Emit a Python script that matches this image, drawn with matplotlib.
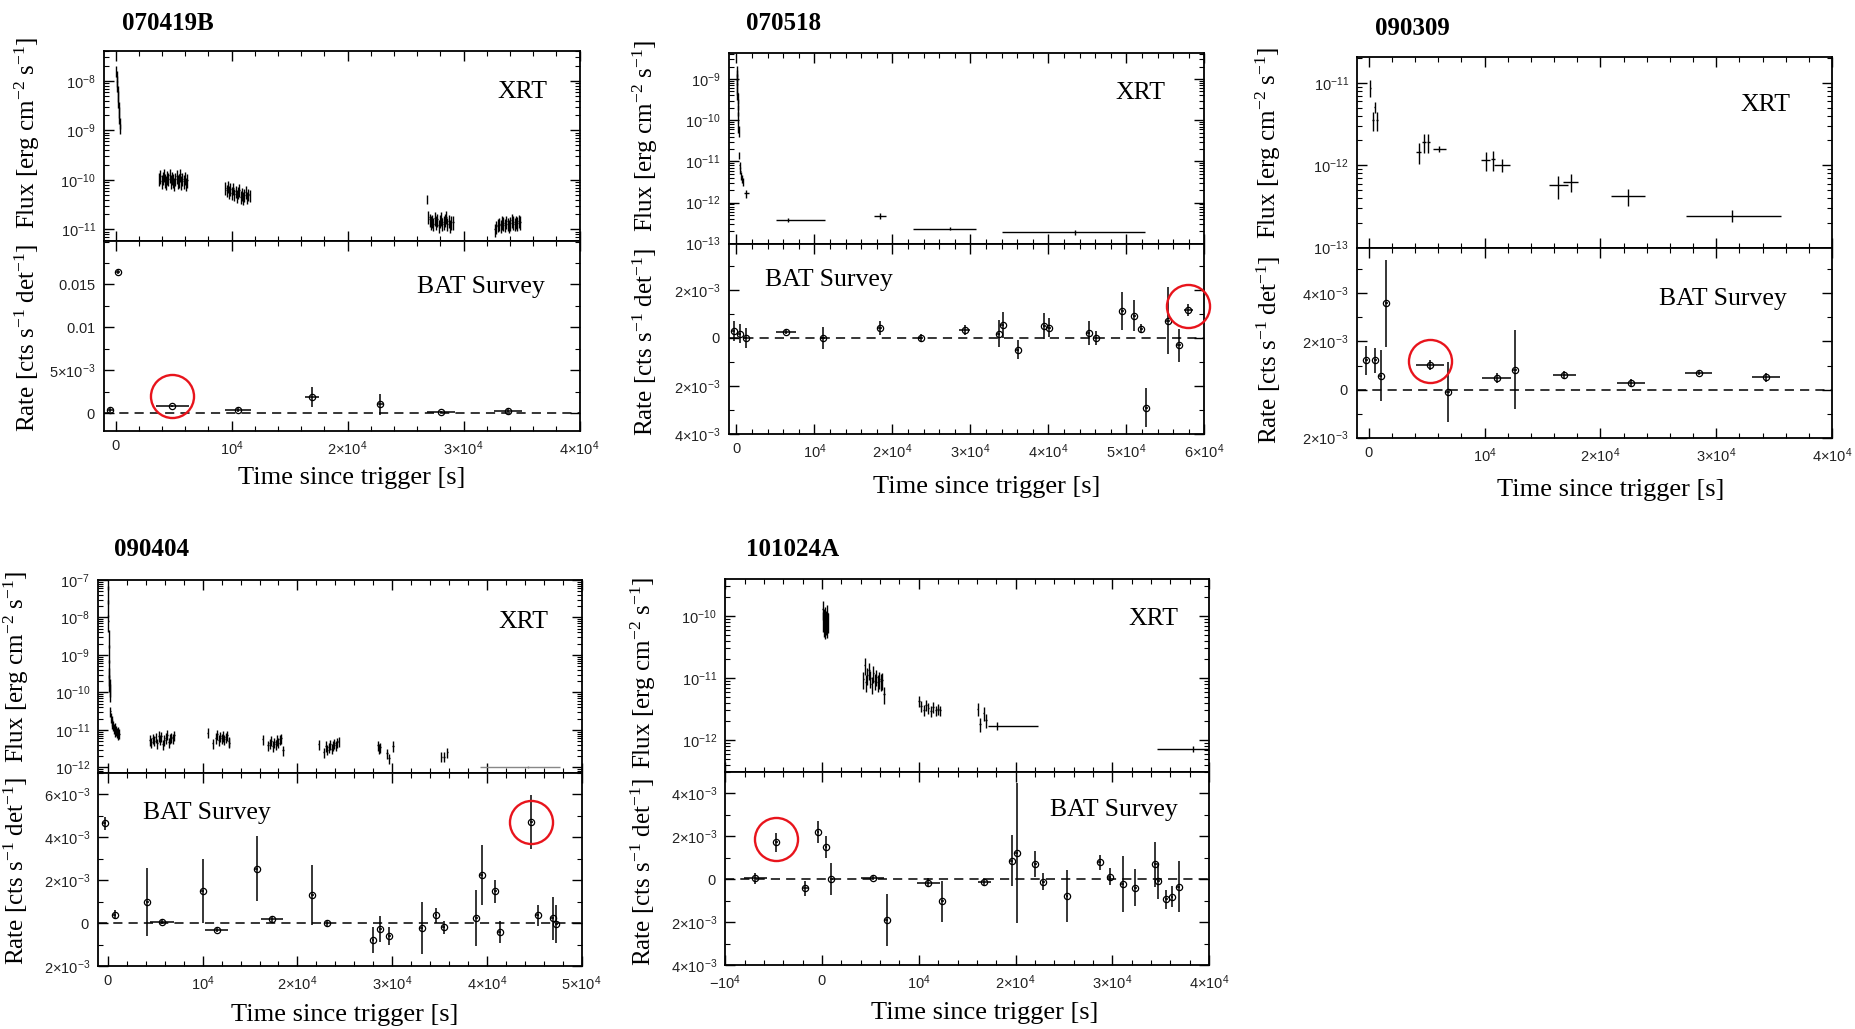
import matplotlib
matplotlib.use("Agg")
import matplotlib.pyplot as plt
import matplotlib.transforms as mtransforms
from matplotlib.ticker import FixedLocator, MultipleLocator, LogLocator, NullFormatter, FixedFormatter

plt.rcParams['font.family'] = ['Liberation Sans', 'DejaVu Sans']
plt.rcParams['mathtext.fontset'] = 'dejavusans'

# ------------------------------------------------------------------ data
titles = ["070419B", "070518", "090309", "090404", "101024A"]

# ---- 070419B  XRT clusters (time [s], flux [erg cm-2 s-1])
p1_c1_t = [40, 70, 100, 130, 160, 190, 220, 250, 280, 310, 340, 370]
p1_c1_f = [1.6e-8, 1.26e-8, 1.0e-8, 7.9e-9, 6.3e-9, 5.0e-9, 3.8e-9, 3.0e-9, 2.4e-9, 1.8e-9, 1.4e-9, 1.1e-9]
p1_c2_t = [3750, 3850, 3950, 4050, 4150, 4250, 4350, 4450, 4550, 4650, 4750, 4850, 4950,
           5050, 5150, 5250, 5350, 5450, 5550, 5650, 5750, 5850, 5950, 6050, 6150]
p1_c2_f = [1.05e-10, 1.20e-10, 0.95e-10, 1.10e-10, 1.30e-10, 1.00e-10, 0.90e-10, 1.15e-10, 1.05e-10,
           1.25e-10, 0.95e-10, 1.10e-10, 1.00e-10, 0.85e-10, 1.05e-10, 1.20e-10, 0.95e-10, 1.00e-10,
           1.30e-10, 0.90e-10, 1.05e-10, 0.95e-10, 1.10e-10, 0.85e-10, 1.00e-10]
p1_c3_t = [9450, 9560, 9670, 9780, 9890, 10000, 10110, 10220, 10330, 10440, 10550, 10660,
           10770, 10880, 10990, 11100, 11210, 11320, 11430, 11540]
p1_c3_f = [7.0e-11, 6.2e-11, 7.4e-11, 5.8e-11, 6.6e-11, 5.5e-11, 6.9e-11, 5.2e-11, 6.0e-11, 4.8e-11,
           5.6e-11, 6.3e-11, 4.6e-11, 5.3e-11, 4.4e-11, 5.0e-11, 5.8e-11, 4.5e-11, 5.1e-11, 4.9e-11]
p1_c4_t = [26830]
p1_c4_f = [4.1e-11]
p1_c5_t = [26950, 27060, 27170, 27280, 27390, 27500, 27610, 27720, 27830, 27940, 28050, 28160,
           28270, 28380, 28490, 28600, 28710, 28820, 28930, 29100]
p1_c5_f = [1.8e-11, 1.6e-11, 1.4e-11, 1.5e-11, 1.3e-11, 1.7e-11, 1.4e-11, 1.6e-11, 1.2e-11, 1.5e-11,
           1.7e-11, 1.3e-11, 1.4e-11, 1.6e-11, 1.8e-11, 1.3e-11, 1.5e-11, 1.2e-11, 1.4e-11, 1.4e-11]
p1_c6_t = [32700, 32820, 32940, 33060, 33180, 33300, 33420, 33540, 33660, 33780, 33900, 34020,
           34140, 34260, 34380, 34500, 34620, 34740, 34860]
p1_c6_f = [1.0e-11, 1.15e-11, 1.25e-11, 1.3e-11, 1.2e-11, 1.4e-11, 1.35e-11, 1.25e-11, 1.45e-11,
           1.3e-11, 1.2e-11, 1.35e-11, 1.55e-11, 1.4e-11, 1.3e-11, 1.45e-11, 1.35e-11, 1.5e-11, 1.4e-11]
# ---- 070419B  BAT survey
p1_bat_t = [-460, 200, 4880, 10530, 16930, 22800, 28020, 33800]
p1_bat_terr = [250, 150, 1400, 1100, 600, 250, 1200, 1200]
p1_bat_r = [0.0004, 0.0165, 0.00085, 0.0004, 0.0019, 0.00105, 0.0001, 0.0003]
p1_bat_rerr = [0.0002, 0.0003, 0.00012, 0.0002, 0.0012, 0.0012, 0.00012, 0.0002]

# ---- 070518  XRT
p2_c1_t = [20, 40, 60, 80, 100, 120, 140, 160, 180, 200, 240, 270]
p2_c1_f = [1.6e-9, 1.3e-9, 1.0e-9, 8e-10, 6e-10, 4.5e-10, 3.5e-10, 2.5e-10, 1.8e-10, 1.2e-10, 7e-11, 5.5e-11]
p2_c2_t = [330, 420, 510, 600, 690, 780]
p2_c2_f = [1.4e-11, 8e-12, 6e-12, 4.5e-12, 3.8e-12, 3.2e-12]
p2_late_t = [1280, 6600, 18380, 27410, 43400]
p2_late_tlo = [300, 1500, 800, 4820, 9390]
p2_late_thi = [300, 4700, 800, 3300, 9040]
p2_late_f = [1.66e-12, 3.8e-13, 4.8e-13, 2.3e-13, 1.9e-13]
p2_late_ferr = [0.35e-12, 0.4e-13, 0.9e-13, 0.2e-13, 0.25e-13]
# ---- 070518  BAT
p2_bat_t = [-355, 406, 1170, 6350, 11070, 18380, 23600, 29290, 33650, 34160, 36040,
            39440, 40100, 45180, 46040, 49490, 51020, 51930, 52540, 55330, 56750, 57920]
p2_bat_terr = [200, 200, 200, 1270, 300, 300, 300, 700, 200, 200, 200,
               200, 200, 200, 200, 200, 200, 200, 200, 200, 200, 600]
p2_bat_r = [0.28e-3, 0.18e-3, 0.0, 0.25e-3, 0.0, 0.42e-3, 0.0, 0.32e-3, 0.18e-3, 0.53e-3, -0.49e-3,
            0.49e-3, 0.43e-3, 0.21e-3, 0.0, 1.11e-3, 0.92e-3, 0.39e-3, -2.9e-3, 0.71e-3, -0.31e-3, 1.15e-3]
p2_bat_rerr = [0.42e-3, 0.4e-3, 0.4e-3, 0.1e-3, 0.45e-3, 0.3e-3, 0.15e-3, 0.2e-3, 0.55e-3, 0.55e-3, 0.4e-3,
               0.55e-3, 0.4e-3, 0.5e-3, 0.3e-3, 0.8e-3, 0.65e-3, 0.2e-3, 0.8e-3, 1.4e-3, 0.7e-3, 0.25e-3]

# ---- 090309  XRT
p3_xrt_t = [150, 520, 350, 750, 4320, 4780, 5150, 6100, 10100, 10730, 11500, 16380, 17440, 22380, 31390]
p3_xrt_tlo = [60, 60, 80, 80, 200, 150, 150, 570, 400, 200, 700, 800, 650, 1430, 4000]
p3_xrt_thi = [60, 60, 80, 80, 200, 150, 150, 570, 400, 200, 700, 800, 650, 1430, 4200]
p3_xrt_f = [8.7e-12, 5.1e-12, 3.5e-12, 3.5e-12, 1.45e-12, 1.9e-12, 1.9e-12, 1.58e-12,
            1.16e-12, 1.18e-12, 1.02e-12, 5.7e-13, 6.3e-13, 4.2e-13, 2.45e-13]
p3_xrt_ferr = [2.0e-12, 0.8e-12, 0.9e-12, 0.9e-12, 0.4e-12, 0.5e-12, 0.5e-12, 0.15e-12,
               0.3e-12, 0.32e-12, 0.18e-12, 1.8e-13, 1.5e-13, 1.0e-13, 0.4e-13]
# ---- 090309  BAT
p3_bat_t = [-200, 580, 1020, 1530, 5290, 6850, 11060, 12620, 16900, 22670, 28470, 34270]
p3_bat_terr = [150, 150, 150, 150, 1220, 150, 1250, 150, 1000, 1200, 1200, 1200]
p3_bat_r = [1.21e-3, 1.21e-3, 0.58e-3, 3.59e-3, 1.03e-3, -0.11e-3, 0.48e-3, 0.83e-3, 0.62e-3, 0.28e-3, 0.69e-3, 0.51e-3]
p3_bat_rerr = [0.62e-3, 0.5e-3, 1.05e-3, 1.8e-3, 0.2e-3, 1.25e-3, 0.2e-3, 1.65e-3, 0.15e-3, 0.15e-3, 0.1e-3, 0.2e-3]

# ---- 090404  XRT
p4_c1_t = [20, 40, 60, 80, 100, 120, 140, 160, 180, 200]
p4_c1_f = [4.5e-8, 2e-8, 8e-9, 3e-9, 1.2e-9, 5e-10, 3e-10, 2e-10, 1.5e-10, 1.1e-10]
p4_c2_t = [240, 320, 400, 480, 560, 640, 720, 800, 880, 960, 1040, 1120, 1200]
p4_c2_f = [3.2e-11, 2.2e-11, 1.8e-11, 1.5e-11, 1.3e-11, 1.1e-11, 1.2e-11, 0.95e-11, 1.0e-11,
           0.85e-11, 0.9e-11, 0.75e-11, 0.8e-11]
p4_c3_t = [4450, 4600, 4750, 4900, 5050, 5200, 5350, 5500, 5650, 5800, 5950, 6100, 6250, 6400,
           6550, 6700, 6850, 7000]
p4_c3_f = [5.5e-12, 4.8e-12, 6.0e-12, 5.2e-12, 6.5e-12, 4.5e-12, 7.0e-12, 5.8e-12, 6.8e-12, 4.2e-12,
           5.5e-12, 6.2e-12, 7.5e-12, 4.8e-12, 5.9e-12, 6.5e-12, 6.0e-12, 7.2e-12]
p4_c4_t = [10530, 11050, 11400, 11550, 11700, 11850, 12000, 12150, 12300, 12450, 12600, 12750, 12820]
p4_c4_f = [8.5e-12, 4.4e-12, 6.2e-12, 7.8e-12, 5.5e-12, 6.8e-12, 6.0e-12, 7.0e-12, 5.8e-12, 6.5e-12,
           7.2e-12, 5.0e-12, 4.6e-12]
p4_c5_t = [16330, 16900, 17100, 17250, 17400, 17550, 17700, 17850, 18000, 18150, 18300, 18480]
p4_c5_f = [5.6e-12, 4.0e-12, 4.5e-12, 5.2e-12, 3.8e-12, 4.8e-12, 4.2e-12, 5.5e-12, 4.6e-12, 5.8e-12,
           6.0e-12, 2.95e-12]
p4_c6_t = [22250, 22780, 23000, 23150, 23300, 23450, 23600, 23750, 23900, 24050, 24200, 24350]
p4_c6_f = [4.2e-12, 2.6e-12, 3.8e-12, 3.0e-12, 3.5e-12, 4.2e-12, 3.2e-12, 3.9e-12, 4.5e-12, 4.0e-12,
           4.8e-12, 5.0e-12]
p4_c7_t = [28530, 28600, 28750, 29480, 29700, 30080, 35200, 35450, 35830]
p4_c7_f = [4.0e-12, 3.2e-12, 3.5e-12, 2.4e-12, 1.75e-12, 3.8e-12, 1.95e-12, 1.95e-12, 2.6e-12]
p4_late_t = [44330]
p4_late_tlo = [5060]
p4_late_thi = [3360]
p4_late_f = [1.05e-12]
p4_late_ferr = [0.06e-12]
# ---- 090404  BAT
p4_bat_t = [-320, 730, 4170, 5710, 10000, 11500, 15710, 17330, 21580, 23080, 27980, 28740, 29680,
            33120, 34620, 35430, 38870, 39470, 40890, 41340, 44700, 45340, 46920, 47330]
p4_bat_terr = [150, 150, 150, 1215, 150, 1200, 150, 1200, 150, 150, 150, 150, 150,
               150, 150, 150, 150, 150, 150, 150, 150, 150, 150, 150]
p4_bat_r = [4.65e-3, 0.39e-3, 0.98e-3, 0.05e-3, 1.5e-3, -0.31e-3, 2.53e-3, 0.19e-3, 1.29e-3, 0.0,
            -0.79e-3, -0.28e-3, -0.6e-3, -0.22e-3, 0.37e-3, -0.2e-3, 0.22e-3, 2.25e-3, 1.47e-3,
            -0.42e-3, 4.71e-3, 0.36e-3, 0.22e-3, -0.05e-3]
p4_bat_rerr = [0.3e-3, 0.2e-3, 1.6e-3, 0.1e-3, 1.5e-3, 0.1e-3, 1.5e-3, 0.15e-3, 1.4e-3, 0.15e-3,
               0.6e-3, 0.6e-3, 0.4e-3, 1.2e-3, 0.35e-3, 0.3e-3, 1.3e-3, 1.4e-3, 0.55e-3,
               0.5e-3, 1.25e-3, 0.5e-3, 1.0e-3, 0.9e-3]

# ---- 101024A  XRT
p5_c1_t = [60, 110, 160, 210, 260, 310, 360, 410, 460, 510, 560, 610]
p5_c1_f = [1.3e-10, 8.5e-11, 7.0e-11, 9.5e-11, 6.5e-11, 8.0e-11, 1.05e-10, 7.5e-11, 9.0e-11,
           6.8e-11, 1.1e-10, 8.2e-11]
p5_c2_t = [4250, 4400, 4550, 4700, 4850, 5000, 5150, 5300, 5450, 5600, 5750, 5900, 6050, 6200, 6400]
p5_c2_f = [9.5e-12, 1.6e-11, 8.5e-12, 1.1e-11, 1.35e-11, 1.0e-11, 8.0e-12, 1.2e-11, 9.0e-12,
           1.05e-11, 8.5e-12, 9.5e-12, 8.8e-12, 9.2e-12, 5.5e-12]
p5_c3_t = [10000, 10250, 10500, 10750, 11000, 11250, 11500, 11750, 12000, 12200]
p5_c3_f = [4.2e-12, 3.6e-12, 3.1e-12, 3.7e-12, 3.3e-12, 2.9e-12, 3.4e-12, 3.0e-12, 3.2e-12, 3.0e-12]
p5_c4_t = [16070, 16350, 16690, 16960]
p5_c4_f = [3.2e-12, 1.8e-12, 2.7e-12, 2.1e-12]
p5_late_t = [18070, 38290]
p5_late_tlo = [970, 3680]
p5_late_thi = [4200, 2500]
p5_late_f = [1.7e-12, 7.2e-13]
p5_late_ferr = [0.25e-12, 0.7e-13]
# ---- 101024A  BAT
p5_bat_t = [-6900, -4730, -1710, -410, 410, 980, 5220, 6690, 10980, 12410, 16780, 19590, 20120,
            22040, 22860, 25310, 28690, 29710, 31060, 32370, 34410, 34740, 35550, 36160, 36860]
p5_bat_terr = [1200, 150, 300, 150, 150, 150, 1200, 150, 1200, 150, 700, 150, 150,
               150, 150, 150, 150, 150, 150, 150, 150, 150, 150, 150, 150]
p5_bat_r = [0.05e-3, 1.72e-3, -0.42e-3, 2.19e-3, 1.49e-3, 0.0, 0.05e-3, -1.88e-3, -0.16e-3, -1.02e-3,
            -0.11e-3, 0.87e-3, 1.21e-3, 0.71e-3, -0.11e-3, -0.79e-3, 0.78e-3, 0.12e-3, -0.23e-3,
            -0.39e-3, 0.7e-3, -0.08e-3, -0.93e-3, -0.81e-3, -0.34e-3]
p5_bat_rerr = [0.25e-3, 0.45e-3, 0.35e-3, 0.5e-3, 0.5e-3, 0.75e-3, 0.1e-3, 1.2e-3, 0.2e-3, 0.95e-3,
               0.15e-3, 1.2e-3, 3.25e-3, 0.6e-3, 0.4e-3, 1.2e-3, 0.35e-3, 0.4e-3, 1.3e-3,
               0.85e-3, 1.05e-3, 0.85e-3, 0.45e-3, 0.5e-3, 1.2e-3]

highlight_index = [2, 21, 4, 20, 1]

# axis settings
x_limits = [(-1000, 40000), (-1000, 60000), (-1000, 40000), (-1000, 50000), (-10000, 40000)]
x_ticks = [[0, 1e4, 2e4, 3e4, 4e4],
           [0, 1e4, 2e4, 3e4, 4e4, 5e4, 6e4],
           [0, 1e4, 2e4, 3e4, 4e4],
           [0, 1e4, 2e4, 3e4, 4e4, 5e4],
           [-1e4, 0, 1e4, 2e4, 3e4, 4e4]]
x_ticklabels = [[r'$\mathdefault{0}$', r'$\mathdefault{10^{4}}$', r'$\mathdefault{2{\times}10^{4}}$',
                 r'$\mathdefault{3{\times}10^{4}}$', r'$\mathdefault{4{\times}10^{4}}$'],
                [r'$\mathdefault{0}$', r'$\mathdefault{10^{4}}$', r'$\mathdefault{2{\times}10^{4}}$',
                 r'$\mathdefault{3{\times}10^{4}}$', r'$\mathdefault{4{\times}10^{4}}$',
                 r'$\mathdefault{5{\times}10^{4}}$', r'$\mathdefault{6{\times}10^{4}}$'],
                [r'$\mathdefault{0}$', r'$\mathdefault{10^{4}}$', r'$\mathdefault{2{\times}10^{4}}$',
                 r'$\mathdefault{3{\times}10^{4}}$', r'$\mathdefault{4{\times}10^{4}}$'],
                [r'$\mathdefault{0}$', r'$\mathdefault{10^{4}}$', r'$\mathdefault{2{\times}10^{4}}$',
                 r'$\mathdefault{3{\times}10^{4}}$', r'$\mathdefault{4{\times}10^{4}}$',
                 r'$\mathdefault{5{\times}10^{4}}$'],
                [r'$\mathdefault{-10^{4}}$', r'$\mathdefault{0}$', r'$\mathdefault{10^{4}}$',
                 r'$\mathdefault{2{\times}10^{4}}$', r'$\mathdefault{3{\times}10^{4}}$',
                 r'$\mathdefault{4{\times}10^{4}}$']]
xrt_limits = [(10**-11.23, 10**-7.39), (1e-13, 10**-8.36), (1e-13, 10**-10.69),
              (10**-12.14, 1e-7), (10**-12.51, 10**-9.4)]
bat_limits = [(-0.00206, 0.0201), (-4e-3, 3.92e-3), (-2e-3, 5.9e-3), (-2e-3, 7e-3), (-4e-3, 5e-3)]
bat_ticks = [[0, 5e-3, 0.01, 0.015], [-4e-3, -2e-3, 0, 2e-3], [-2e-3, 0, 2e-3, 4e-3],
             [-2e-3, 0, 2e-3, 4e-3, 6e-3], [-4e-3, -2e-3, 0, 2e-3, 4e-3]]
E3 = r'$\mathdefault{%d{\times}10^{-3}}$'
bat_ticklabels = [[r'$\mathdefault{0}$', E3 % 5, r'$\mathdefault{0.01}$', r'$\mathdefault{0.015}$'],
                  [E3 % 4, E3 % 2, r'$\mathdefault{0}$', E3 % 2],
                  [E3 % 2, r'$\mathdefault{0}$', E3 % 2, E3 % 4],
                  [E3 % 2, r'$\mathdefault{0}$', E3 % 2, E3 % 4, E3 % 6],
                  [E3 % 4, E3 % 2, r'$\mathdefault{0}$', E3 % 2, E3 % 4]]
bat_minor = [2.5e-3, 1e-3, 1e-3, 1e-3, 1e-3]

# ------------------------------------------------------------------ layout (pixels)
W, H = 1856, 1029
fig = plt.figure(figsize=(W / 100, H / 100), dpi=100)

# left, right, top, divider, bottom
boxes = [(104.1, 579.7, 50.7, 240.7, 431.0),
         (728.7, 1204.4, 52.7, 243.7, 434.0),
         (1357.1, 1832.1, 57.3, 247.7, 437.7),
         (98.4, 581.7, 580.0, 772.7, 966.0),
         (725.2, 1209.2, 578.7, 771.7, 965.3)]
title_pos = [(121.7, 23), (745.7, 23.3), (1374.8, 28.3), (113.7, 549), (745.7, 550)]
ylab_pos = [(27, 133, 338), (645, 135.5, 342), (1268.5, 143, 350), (16, 667, 871), (643, 673, 872)]
xlab_pos = [(352, 478), (986.7, 487), (1611, 490), (344.5, 1015), (984.5, 1013)]
xrt_txt = [(0.932, 0.785, 'right'), (0.918, 0.787, 'right'), (0.912, 0.75, 'right'),
           (0.932, 0.784, 'right'), (0.936, 0.79, 'right')]
bat_txt = [(0.927, 0.758, 'right'), (0.077, 0.81, 'left'), (0.905, 0.728, 'right'),
           (0.093, 0.79, 'left'), (0.936, 0.80, 'right')]
circle_dy = [7, 3, 3, 0, 2]

SERIF = ['Liberation Serif', 'DejaVu Serif']
LBL = 18
INFO = 18.5


def fx(x):
    return x / W


def fy(y):
    return 1 - y / H


def style(ax):
    ax.tick_params(which='both', direction='in', top=True, right=True, color='k',
                   labelcolor='#222222', labelsize=10.5)
    ax.tick_params(which='major', length=7, width=1.0)
    ax.tick_params(which='minor', length=3.5, width=0.8)
    ax.tick_params(axis='y', pad=6)
    ax.tick_params(axis='x', pad=6)
    for s in ax.spines.values():
        s.set_linewidth(1.3)


def xrt_plot(ax, t, f, rel, terr, color='k'):
    ax.errorbar(t, f, yerr=[v * rel for v in f], xerr=terr, fmt='none',
                ecolor=color, elinewidth=1.0, capsize=0)


def xrt_plot_abs(ax, t, f, tlo, thi, ferr, color='k'):
    ax.errorbar(t, f, yerr=ferr, xerr=[tlo, thi], fmt='none',
                ecolor=color, elinewidth=1.0, capsize=0)


xrt_data = [
    lambda ax: (xrt_plot(ax, p1_c1_t, p1_c1_f, 0.25, 15), xrt_plot(ax, p1_c2_t, p1_c2_f, 0.3, 50),
                xrt_plot(ax, p1_c3_t, p1_c3_f, 0.28, 50), xrt_plot(ax, p1_c4_t, p1_c4_f, 0.22, 20),
                xrt_plot(ax, p1_c5_t, p1_c5_f, 0.3, 50), xrt_plot(ax, p1_c6_t, p1_c6_f, 0.3, 55)),
    lambda ax: (xrt_plot(ax, p2_c1_t, p2_c1_f, 0.3, 10), xrt_plot(ax, p2_c2_t, p2_c2_f, 0.2, 40),
                xrt_plot_abs(ax, p2_late_t, p2_late_f, p2_late_tlo, p2_late_thi, p2_late_ferr)),
    lambda ax: xrt_plot_abs(ax, p3_xrt_t, p3_xrt_f, p3_xrt_tlo, p3_xrt_thi, p3_xrt_ferr),
    lambda ax: (xrt_plot(ax, p4_c1_t, p4_c1_f, 0.5, 10), xrt_plot(ax, p4_c2_t, p4_c2_f, 0.3, 40),
                xrt_plot(ax, p4_c3_t, p4_c3_f, 0.3, 60), xrt_plot(ax, p4_c4_t, p4_c4_f, 0.3, 70),
                xrt_plot(ax, p4_c5_t, p4_c5_f, 0.3, 70), xrt_plot(ax, p4_c6_t, p4_c6_f, 0.3, 70),
                xrt_plot(ax, p4_c7_t, p4_c7_f, 0.3, 90),
                xrt_plot_abs(ax, p4_late_t, p4_late_f, p4_late_tlo, p4_late_thi, p4_late_ferr,
                             color='#888888')),
    lambda ax: (xrt_plot(ax, p5_c1_t, p5_c1_f, 0.35, 25), xrt_plot(ax, p5_c2_t, p5_c2_f, 0.3, 60),
                xrt_plot(ax, p5_c3_t, p5_c3_f, 0.2, 100), xrt_plot(ax, p5_c4_t, p5_c4_f, 0.25, 90),
                xrt_plot_abs(ax, p5_late_t, p5_late_f, p5_late_tlo, p5_late_thi, p5_late_ferr)),
]
bat_data = [(p1_bat_t, p1_bat_terr, p1_bat_r, p1_bat_rerr),
            (p2_bat_t, p2_bat_terr, p2_bat_r, p2_bat_rerr),
            (p3_bat_t, p3_bat_terr, p3_bat_r, p3_bat_rerr),
            (p4_bat_t, p4_bat_terr, p4_bat_r, p4_bat_rerr),
            (p5_bat_t, p5_bat_terr, p5_bat_r, p5_bat_rerr)]

for i in range(5):
    l, r, t, d, b = boxes[i]
    ax_top = fig.add_axes([fx(l), fy(d), (r - l) / W, (d - t) / H])
    ax_bot = fig.add_axes([fx(l), fy(b), (r - l) / W, (b - d) / H])
    for ax in (ax_top, ax_bot):
        style(ax)
        ax.set_xlim(*x_limits[i])
        ax.xaxis.set_major_locator(FixedLocator(x_ticks[i]))
        ax.xaxis.set_minor_locator(MultipleLocator(2000))

    # XRT panel
    ax_top.set_yscale('log')
    xrt_data[i](ax_top)
    ax_top.set_xlim(*x_limits[i])
    ax_top.set_ylim(*xrt_limits[i])
    ax_top.yaxis.set_major_locator(LogLocator(base=10, numticks=30))
    ax_top.yaxis.set_minor_locator(LogLocator(base=10, subs=range(2, 10), numticks=100))
    ax_top.yaxis.set_minor_formatter(NullFormatter())
    ax_top.xaxis.set_major_formatter(NullFormatter())
    ax_top.tick_params(axis='x', labelbottom=False)

    # BAT panel
    bt, bterr, br, brerr = bat_data[i]
    ax_bot.axhline(0, color='k', lw=1.1, ls=(0, (6, 4)), zorder=1)
    ax_bot.errorbar(bt, br, yerr=brerr, xerr=bterr, fmt='o', ms=4.5, mfc='none', mec='k',
                    mew=0.9, ecolor='k', elinewidth=1.1, capsize=0, zorder=3)
    ax_bot.set_xlim(*x_limits[i])
    ax_bot.set_ylim(*bat_limits[i])
    ax_bot.yaxis.set_major_locator(FixedLocator(bat_ticks[i]))
    ax_bot.yaxis.set_major_formatter(FixedFormatter(bat_ticklabels[i]))
    ax_bot.yaxis.set_minor_locator(MultipleLocator(bat_minor[i]))
    ax_bot.xaxis.set_major_formatter(FixedFormatter(x_ticklabels[i]))

    # highlighted point
    k = highlight_index[i]
    tr = mtransforms.offset_copy(ax_bot.transData, fig=fig, x=0, y=circle_dy[i], units='points')
    ax_bot.plot([bt[k]], [br[k]], 'o', ms=31, mfc='none', mec='#e8141c', mew=1.7,
                transform=tr, clip_on=False, zorder=5)

    # texts
    xx, yy, ha = xrt_txt[i]
    ax_top.text(xx, yy, 'XRT', transform=ax_top.transAxes, ha=ha, va='center',
                family=SERIF, fontsize=INFO)
    xx, yy, ha = bat_txt[i]
    ax_bot.text(xx, yy, 'BAT Survey', transform=ax_bot.transAxes, ha=ha, va='center',
                family=SERIF, fontsize=INFO)

    tx, ty = title_pos[i]
    fig.text(fx(tx), fy(ty), titles[i], ha='left', va='center', family=SERIF,
             fontsize=18, fontweight='bold')
    lx, ly1, ly2 = ylab_pos[i]
    fig.text(fx(lx), fy(ly1), r'Flux [erg cm$\mathregular{^{-2}}$ s$\mathregular{^{-1}}$]',
             rotation=90, ha='center', va='center', family=SERIF, fontsize=LBL)
    fig.text(fx(lx), fy(ly2), r'Rate [cts s$\mathregular{^{-1}}$ det$\mathregular{^{-1}}$]',
             rotation=90, ha='center', va='center', family=SERIF, fontsize=LBL)
    xlx, xly = xlab_pos[i]
    fig.text(fx(xlx), fy(xly), 'Time since trigger [s]', ha='center', va='center',
             family=SERIF, fontsize=LBL + 1)

fig.savefig('out.png', dpi=100)
